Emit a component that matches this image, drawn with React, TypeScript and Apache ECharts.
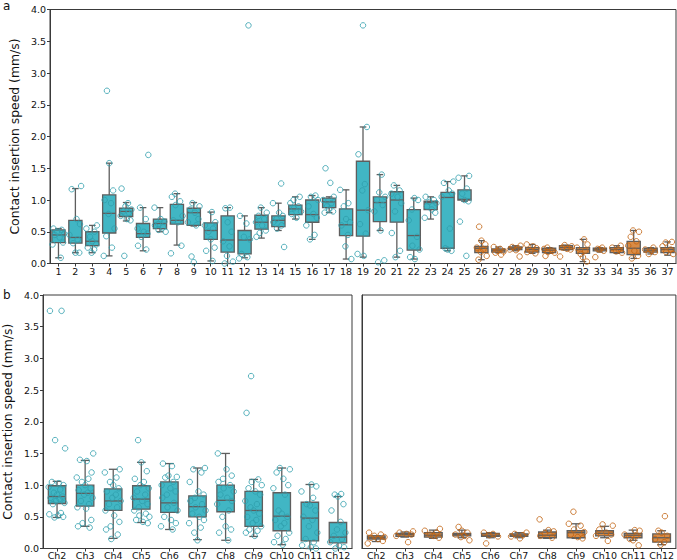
import React, { useEffect, useRef } from 'react';
import * as echarts from 'echarts';

// ---------- Panel a ----------
const catsA = ['1','2','3','4','5','6','7','8','9','10','11','12','13','14','15','16','17','18','19','20','21','22','23','24','25','26','27','28','29','30','31','32','33','34','35','36','37'];
const tealCountA = 25;
// [whisker low, Q1, median, Q3, whisker high]
const statsA = [
  [0.09,0.33,0.45,0.53,0.55],[0.17,0.32,0.41,0.68,1.18],[0.17,0.28,0.35,0.50,0.60],[0.12,0.48,0.79,1.08,1.58],
  [0.67,0.74,0.82,0.87,0.96],[0.20,0.41,0.47,0.63,0.88],[0.50,0.55,0.63,0.70,0.88],[0.29,0.62,0.68,0.93,1.10],
  [0.59,0.60,0.80,0.87,0.96],[0.04,0.38,0.52,0.64,0.81],[0.00,0.18,0.37,0.75,0.88],[0.09,0.15,0.37,0.52,0.75],
  [0.40,0.54,0.65,0.76,0.88],[0.52,0.58,0.68,0.75,0.95],[0.70,0.77,0.86,0.92,1.05],[0.38,0.65,0.77,1.00,1.07],
  [0.80,0.88,0.97,1.03,1.05],[0.07,0.44,0.61,0.86,1.16],[0.10,0.43,0.84,1.61,2.15],[0.52,0.66,0.96,1.05,1.40],
  [0.10,0.65,1.00,1.13,1.23],[0.07,0.21,0.44,0.85,1.03],[0.70,0.85,0.96,0.98,1.05],[0.20,0.24,1.04,1.12,1.29],
  [0.98,1.00,1.01,1.16,1.38],[0.06,0.17,0.24,0.27,0.36],[0.17,0.18,0.21,0.23,0.26],[0.20,0.22,0.24,0.26,0.28],
  [0.16,0.18,0.22,0.25,0.30],[0.16,0.17,0.21,0.24,0.25],[0.21,0.22,0.25,0.28,0.29],[0.03,0.16,0.22,0.25,0.38],
  [0.18,0.20,0.22,0.24,0.25],[0.16,0.17,0.22,0.25,0.28],[0.08,0.14,0.24,0.35,0.52],[0.15,0.18,0.21,0.24,0.25],
  [0.13,0.17,0.22,0.25,0.34]
];
const pointsA = [
  [0.55,0.53,0.5,0.47,0.45,0.41,0.33,0.3,0.09],
  [1.22,1.17,0.7,0.62,0.45,0.38,0.32,0.17,0.17],
  [0.6,0.55,0.5,0.42,0.35,0.3,0.25,0.22,0.17],
  [2.72,1.58,1.15,1.0,0.95,0.78,0.55,0.43,0.25,0.12],
  [1.18,0.95,0.9,0.85,0.82,0.8,0.75,0.7,0.68,0.12],
  [1.71,0.88,0.7,0.55,0.5,0.47,0.42,0.28,0.22],
  [0.88,0.7,0.66,0.62,0.6,0.57,0.53,0.5],
  [1.1,1.05,0.98,0.92,0.75,0.68,0.65,0.28,0.16],
  [0.95,0.9,0.85,0.8,0.7,0.65,0.6,0.11,0.02],
  [0.81,0.65,0.6,0.55,0.5,0.38,0.25,0.2,0.04],
  [0.88,0.87,0.65,0.5,0.35,0.27,0.12,0.03,0.0],
  [3.75,0.75,0.63,0.42,0.38,0.15,0.1,0.08],
  [0.88,0.8,0.75,0.7,0.65,0.6,0.52,0.48,0.42],
  [1.26,0.95,0.8,0.75,0.7,0.65,0.6,0.55,0.26],
  [1.05,1.0,0.95,0.9,0.87,0.82,0.78,0.72],
  [1.07,1.05,1.0,0.9,0.78,0.72,0.6,0.45,0.38],
  [1.5,1.27,1.05,1.0,0.95,0.9,0.85,0.82,0.8],
  [1.16,0.95,0.9,0.7,0.65,0.6,0.45,0.27,0.07],
  [3.75,2.15,1.72,1.25,1.15,0.84,0.62,0.47,0.15,0.12],
  [1.4,1.12,1.05,1.0,0.92,0.82,0.52,0.05,0.02],
  [1.23,1.15,1.1,1.05,0.95,0.82,0.48,0.2,0.1],
  [1.03,1.0,0.85,0.68,0.42,0.28,0.22,0.1,0.07],
  [1.05,1.0,0.97,0.95,0.9,0.85,0.8,0.72],
  [1.29,1.27,1.15,1.1,1.05,0.55,0.24,0.22,0.2],
  [1.38,1.35,1.18,1.1,1.0,0.98,0.66,0.12],
  [0.58,0.36,0.3,0.25,0.22,0.18,0.12,0.06],
  [0.26,0.23,0.2,0.19,0.17,0.14],
  [0.28,0.26,0.24,0.22,0.21,0.11],
  [0.3,0.27,0.24,0.2,0.18,0.16],
  [0.25,0.23,0.2,0.18,0.17,0.12],
  [0.29,0.27,0.25,0.23,0.22,0.11],
  [0.38,0.3,0.25,0.2,0.15,0.1,0.03],
  [0.25,0.23,0.22,0.2,0.1],
  [0.28,0.25,0.22,0.19,0.17],
  [0.52,0.5,0.42,0.35,0.28,0.2,0.12,0.08],
  [0.25,0.22,0.2,0.18,0.15],
  [0.34,0.33,0.27,0.22,0.18,0.15]
];

// ---------- Panel b ----------
const catsB = ['Ch2','Ch3','Ch4','Ch5','Ch6','Ch7','Ch8','Ch9','Ch10','Ch11','Ch12'];
const statsBL = [
  [0.49,0.71,0.82,0.99,1.06],[0.35,0.67,0.87,1.00,1.39],[0.16,0.60,0.75,0.94,1.25],[0.41,0.62,0.78,0.99,1.36],
  [0.30,0.57,0.72,1.05,1.34],[0.14,0.50,0.66,0.83,1.27],[0.13,0.58,0.76,1.00,1.50],[0.19,0.35,0.60,0.90,1.09],
  [0.06,0.28,0.51,0.88,1.27],[0.00,0.12,0.48,0.73,1.01],[0.00,0.09,0.18,0.41,0.82]
];
const pointsBL = [
  [3.75,3.75,1.71,1.58,1.05,1.03,1.0,0.97,0.93,0.88,0.85,0.82,0.8,0.78,0.75,0.72,0.7,0.56,0.54,0.52,0.5,0.49],
  [1.5,1.4,1.38,1.2,1.12,1.1,1.05,1.0,0.95,0.92,0.88,0.85,0.8,0.75,0.7,0.65,0.63,0.45,0.4,0.35,0.33],
  [1.25,1.2,1.12,1.05,1.0,0.95,0.9,0.85,0.8,0.75,0.7,0.65,0.6,0.52,0.42,0.35,0.3,0.22,0.15],
  [1.71,1.36,1.22,1.1,1.05,1.0,0.95,0.9,0.85,0.8,0.75,0.7,0.65,0.6,0.55,0.52,0.5,0.45,0.42,0.4],
  [1.34,1.3,1.15,1.13,1.12,1.05,1.0,0.95,0.9,0.85,0.8,0.72,0.65,0.6,0.5,0.45,0.4,0.35,0.3],
  [1.27,1.25,1.2,1.05,0.9,0.85,0.8,0.75,0.7,0.65,0.6,0.55,0.5,0.45,0.4,0.33,0.25,0.13],
  [1.5,1.25,1.15,1.1,1.05,1.0,0.95,0.9,0.85,0.8,0.75,0.7,0.6,0.5,0.35,0.3,0.25,0.13],
  [2.72,2.14,1.09,1.05,1.0,0.95,0.9,0.85,0.75,0.7,0.65,0.6,0.55,0.5,0.45,0.4,0.35,0.3,0.28,0.25,0.2],
  [1.27,1.25,1.2,1.1,1.0,0.95,0.85,0.6,0.55,0.5,0.45,0.4,0.35,0.25,0.2,0.15,0.1,0.06],
  [1.01,0.98,0.9,0.8,0.7,0.68,0.6,0.5,0.45,0.35,0.25,0.15,0.1,0.05,0.02,0.0],
  [0.86,0.85,0.82,0.7,0.6,0.42,0.3,0.25,0.2,0.15,0.1,0.05,0.02,0.0]
];
const statsBR = [
  [0.11,0.15,0.17,0.20,0.20],[0.18,0.19,0.22,0.24,0.26],[0.16,0.18,0.21,0.25,0.29],[0.17,0.20,0.22,0.24,0.29],
  [0.17,0.19,0.21,0.24,0.25],[0.17,0.19,0.21,0.23,0.25],[0.16,0.17,0.21,0.26,0.29],[0.16,0.17,0.25,0.28,0.39],
  [0.17,0.20,0.24,0.28,0.35],[0.13,0.17,0.21,0.24,0.29],[0.06,0.10,0.17,0.23,0.28]
];
const pointsBR = [
  [0.25,0.22,0.2,0.18,0.17,0.15,0.12,0.08],
  [0.27,0.25,0.23,0.22,0.2,0.1],
  [0.31,0.28,0.25,0.22,0.2,0.17],
  [0.34,0.28,0.25,0.22,0.2,0.18,0.13],
  [0.25,0.23,0.21,0.19,0.08],
  [0.25,0.23,0.21,0.19,0.16],
  [0.46,0.29,0.27,0.24,0.2,0.17],
  [0.58,0.39,0.36,0.3,0.26,0.22,0.18,0.16],
  [0.38,0.36,0.3,0.25,0.22,0.2,0.12],
  [0.29,0.28,0.22,0.2,0.15,0.13,0.05],
  [0.51,0.28,0.25,0.2,0.15,0.1,0.06]
];

const yTicks = [0, 4, 0.5];
const yTitle = 'Contact insertion speed (mm/s)';

// ---------- styling ----------
const TEAL = '#41b6c4';
const TEAL_PT = '#2f9fad';
const ORANGE = '#d98b45';
const ORANGE_PT = '#c0620f';
const EDGE = '#5e5e5e';
const AXIS = '#3a3a3a';
const FONT = 'DejaVu Sans';
const TICK_FS = 9.5;
const JIT = [-0.22,0.14,-0.06,0.25,-0.16,0.05,0.2,-0.26,0.1,-0.1,0.0,0.17,-0.2,0.08,-0.03,0.23,-0.13,0.12,-0.24,0.03,0.19,-0.08];

function boxSeries(stats: number[][], xi: number, yi: number, widthFrac: number, colorOf: (i: number) => string) {
  return {
    type: 'custom',
    xAxisIndex: xi,
    yAxisIndex: yi,
    z: 2,
    encode: { x: 0, y: [1, 2, 3, 4, 5] },
    data: stats.map((s, i) => [i, ...s]),
    renderItem: (params: any, api: any) => {
      const x = api.value(0);
      const lo = api.coord([x, api.value(1)]);
      const q1 = api.coord([x, api.value(2)]);
      const md = api.coord([x, api.value(3)]);
      const q3 = api.coord([x, api.value(4)]);
      const hi = api.coord([x, api.value(5)]);
      const band = api.size([1, 0])[0];
      const hw = (band * widthFrac) / 2;
      const cw = hw * 0.5;
      const cx = lo[0];
      const ls = { stroke: EDGE, lineWidth: 1.3 };
      return {
        type: 'group',
        children: [
          { type: 'line', shape: { x1: cx, y1: lo[1], x2: cx, y2: q1[1] }, style: ls },
          { type: 'line', shape: { x1: cx, y1: q3[1], x2: cx, y2: hi[1] }, style: ls },
          { type: 'line', shape: { x1: cx - cw, y1: lo[1], x2: cx + cw, y2: lo[1] }, style: ls },
          { type: 'line', shape: { x1: cx - cw, y1: hi[1], x2: cx + cw, y2: hi[1] }, style: ls },
          { type: 'rect', shape: { x: cx - hw, y: q3[1], width: 2 * hw, height: q1[1] - q3[1] }, style: { fill: colorOf(params.dataIndex), stroke: EDGE, lineWidth: 1.3 } },
          { type: 'line', shape: { x1: cx - hw, y1: md[1], x2: cx + hw, y2: md[1] }, style: ls },
        ],
      };
    },
  };
}

function pointSeries(points: number[][], from: number, to: number, xi: number, yi: number, spread: number, color: string) {
  const data: number[][] = [];
  for (let i = from; i < to; i++) {
    points[i].forEach((v, j) => data.push([i + JIT[(j + i * 3) % JIT.length] * spread, v]));
  }
  return {
    type: 'scatter',
    xAxisIndex: xi,
    yAxisIndex: yi,
    z: 5,
    symbol: 'circle',
    symbolSize: 5.5,
    itemStyle: { color: 'rgba(0,0,0,0)', borderColor: color, borderWidth: 1 },
    data,
  };
}

function catAxis(grid: number, data: string[], margin: number) {
  return {
    type: 'category', gridIndex: grid, data,
    axisLine: { show: true, onZero: false, lineStyle: { color: AXIS, width: 1 } },
    axisTick: { show: true, alignWithLabel: true, length: 3, lineStyle: { color: AXIS } },
    axisLabel: { color: '#111', fontFamily: FONT, fontSize: TICK_FS, margin, interval: 0 },
    splitLine: { show: false },
  };
}
function hiddenX(grid: number, n: number) {
  return { type: 'value', gridIndex: grid, min: -0.5, max: n - 0.5, show: false };
}
function yAxis(grid: number, labels: boolean) {
  return {
    type: 'value', gridIndex: grid, min: yTicks[0], max: yTicks[1], interval: yTicks[2],
    name: labels ? yTitle : '', nameLocation: 'middle', nameGap: 30,
    nameTextStyle: { color: '#111', fontFamily: FONT, fontSize: 12.4 },
    axisLine: { show: true, onZero: false, lineStyle: { color: AXIS, width: 1 } },
    axisTick: { show: labels, length: 3, lineStyle: { color: AXIS } },
    axisLabel: { show: labels, color: '#111', fontFamily: FONT, fontSize: TICK_FS, margin: 4, formatter: (v: number) => v.toFixed(1) },
    splitLine: { show: false },
  };
}

const gridStyle = { show: true, borderColor: AXIS, borderWidth: 1, backgroundColor: 'transparent' };

const option: any = {
  animation: false,
  backgroundColor: '#ffffff',
  grid: [
    { ...gridStyle, left: 37, top: 9.5, width: 639, height: 254 },
    { ...gridStyle, left: 37, top: 295, width: 315, height: 254 },
    { ...gridStyle, left: 362, top: 295, width: 314, height: 254 },
  ],
  xAxis: [
    catAxis(0, catsA, 3), hiddenX(0, catsA.length),
    catAxis(1, catsB, 1.5), hiddenX(1, catsB.length),
    catAxis(2, catsB, 1.5), hiddenX(2, catsB.length),
  ],
  yAxis: [yAxis(0, true), yAxis(1, true), yAxis(2, false)],
  graphic: [
    { type: 'text', left: 3, top: 0, style: { text: 'a', font: `12px "${FONT}"`, fill: '#111' } },
    { type: 'text', left: 3, top: 289, style: { text: 'b', font: `12px "${FONT}"`, fill: '#111' } },
  ],
  series: [
    boxSeries(statsA, 0, 0, 0.78, (i) => (i < tealCountA ? TEAL : ORANGE)),
    pointSeries(pointsA, 0, tealCountA, 1, 0, 1.35, TEAL_PT),
    pointSeries(pointsA, tealCountA, pointsA.length, 1, 0, 1.35, ORANGE_PT),
    boxSeries(statsBL, 2, 1, 0.62, () => TEAL),
    pointSeries(pointsBL, 0, pointsBL.length, 3, 1, 1.15, TEAL_PT),
    boxSeries(statsBR, 4, 2, 0.62, () => ORANGE),
    pointSeries(pointsBR, 0, pointsBR.length, 5, 2, 1.15, ORANGE_PT),
  ],
};

export default function App() {
  const ref = useRef<HTMLDivElement>(null);
  useEffect(() => {
    const chart = echarts.init(ref.current!, null, { renderer: 'svg' });
    chart.setOption(option);
    return () => chart.dispose();
  }, []);
  return <div ref={ref} style={{ position: 'fixed', left: 0, top: 0, width: 677, height: 560 }} />;
}
